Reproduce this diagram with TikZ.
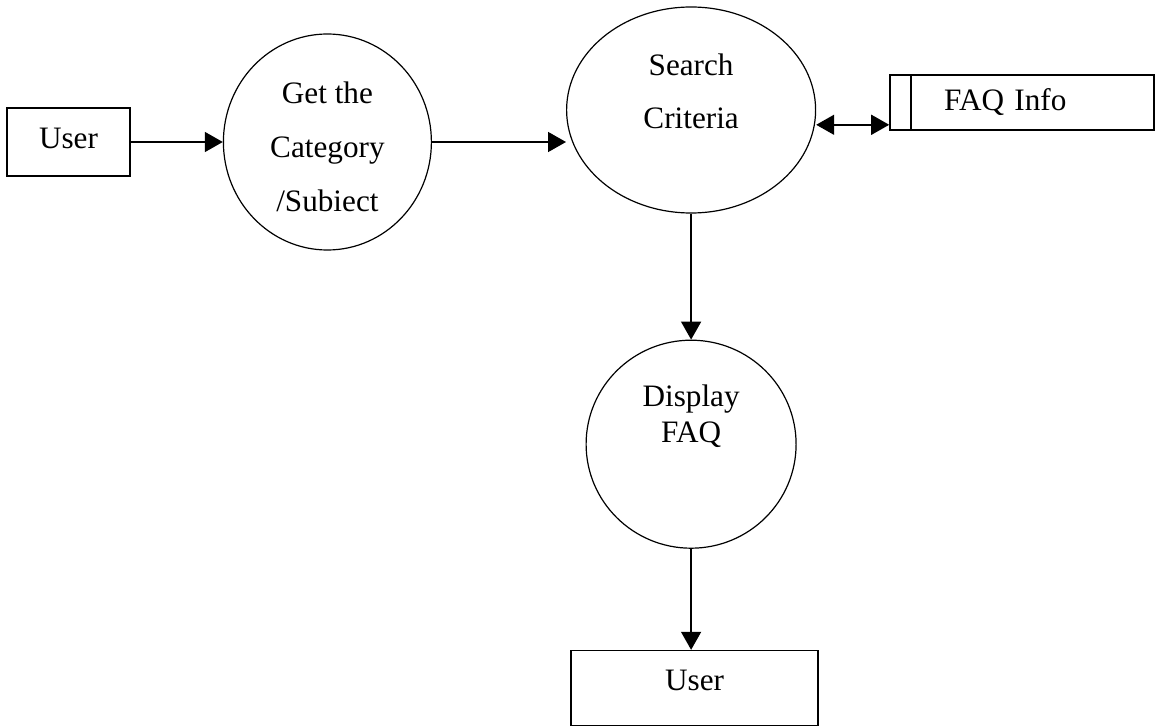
\documentclass[tikz,border=0pt]{standalone}
\usepackage{fontspec}
\setmainfont{Liberation Serif}
\usetikzlibrary{positioning,shapes.geometric,arrows.meta}

\begin{document}
\begin{tikzpicture}[
	cstyle/.style={ellipse, draw, semithick, inner sep=0pt},
	rstyle/.style={rectangle, draw, thick, inner sep=0pt},
	tstyle/.style={align=center},
	astyle/.style={thick, -{Triangle[length=9pt,width=10pt]}},
	dstyle/.style={thick, {Triangle[length=9pt,width=10pt]}-{Triangle[length=9pt,width=10pt]}},
	font=\fontsize{15.6}{18}\selectfont
	]
	\useasboundingbox (0,0) rectangle (578pt,-363.5pt);
	\node[rstyle, minimum width=61.5pt, minimum height=34pt, text depth=4pt] (1) at (34.25pt,-71pt) {User};
	\node[cstyle, minimum width=104pt, minimum height=108pt] (2) [right=46pt of 1] {};
	\node[cstyle, minimum width=124.5pt, minimum height=103pt] (3) [right=67pt of 2, yshift=16pt] {};
	\node[rstyle, minimum width=132pt, minimum height=27.5pt, text width=78pt, align=left] (4) [right=36.5pt of 3, yshift=3.75pt] {FAQ Info};
	\node[cstyle, minimum width=105pt, minimum height=104pt] (5) [below=63pt of 3] {};
	\node[rstyle, minimum width=123.5pt, minimum height=37.5pt, text depth=7.5pt] (6) [below=50.5pt of 5, xshift=1.75pt] {User};
	
	\node[tstyle, font=\fontsize{15.6}{27}\selectfont] (t2) at ([yshift=-2.5pt]2.center) {Get the\\Category\\/Subiect};
	\node[tstyle, font=\fontsize{15.6}{26.5}\selectfont] (t3) at ([yshift=9.25pt]3.center) {Search\\Criteria};
	\node[tstyle] (t5) at ([yshift=14pt]5.center) {Display\\FAQ};
	
	\draw[thick] ([xshift=11pt]4.north west) -- ([xshift=11pt]4.south west);
	\coordinate (c) at ([yshift=3pt]4.south west);
	
	\draw[astyle] (1) -- (2);
	\draw[astyle] (2.east) -- (2.east -| 3.west);
	\draw[dstyle] (3.east |- c) -- (c);
	\draw[astyle] (3) -- (5);
	\draw[astyle] (5.south) -- (5.south |- 6.north);
\end{tikzpicture}
\end{document}
